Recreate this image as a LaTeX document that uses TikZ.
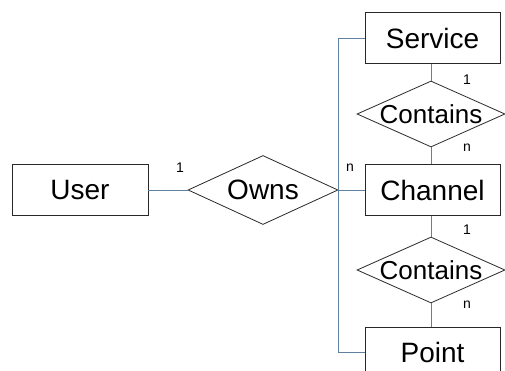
\documentclass[tikz,border=0pt]{standalone}
\usepackage{fontspec}
\setmainfont{Liberation Sans}
\usetikzlibrary{shapes.geometric}
\definecolor{linkblue}{RGB}{95,128,160}
\definecolor{edge}{RGB}{40,40,40}
\tikzset{
  entity/.style={draw=edge, line width=0.8pt, fill=white, minimum width=136pt,
    minimum height=51pt, inner sep=0pt, font=\fontsize{28}{28}\selectfont},
  rel/.style={draw=edge, line width=0.8pt, shape=diamond, inner sep=0pt,
    minimum width=150pt, minimum height=67pt},
  reltext/.style={font=\fontsize{#1}{#1}\selectfont},
  link/.style={draw=linkblue, line width=0.9pt},
  card/.style={font=\fontsize{14}{14}\selectfont, inner sep=0pt}
}
\begin{document}
\begin{tikzpicture}[x=1pt, y=-1pt]
  \useasboundingbox (0,0) rectangle (505,371);
  \clip (0,0) rectangle (505,371);
  % entities
  \node[entity] (user) at (80,190) {User};
  \node[entity, minimum width=135pt] (service) at (432.5,38) {Service};
  \node[entity, minimum width=135pt] (channel) at (432.5,190) {Channel};
  \node[entity, minimum width=135pt] (point) at (432.5,352.5) {Point};
  % relationships
  \node[rel, minimum width=150pt, minimum height=69pt,
        label={[reltext=28]center:Owns}] (owns) at (263,190) {};
  \node[rel, minimum width=148pt, minimum height=66pt,
        label={[reltext=26]center:Contains}] (cont1) at (431,114) {};
  \node[rel, minimum width=148pt, minimum height=66pt,
        label={[reltext=26]center:Contains}] (cont2) at (431,270) {};
  % connectors
  \draw[link] (user.east) -- (owns.west);
  \draw[link] (owns.east) -- (channel.west);
  \draw[link] (owns.east) |- (service.west);
  \draw[link] (owns.east) |- (point.west);
  \draw[link] (service.south -| cont1.north) -- (cont1.north);
  \draw[link] (cont1.south) -- (channel.north -| cont1.south);
  \draw[link] (channel.south -| cont2.north) -- (cont2.north);
  \draw[link] (cont2.south) -- (point.north -| cont2.south);
  % cardinalities
  \node[card] (c1) at (180,168) {1};
  \node[card] (c2) at (350,168) {n};
  \node[card] (c3) at (467,80) {1};
  \node[card] (c4) at (467,148) {n};
  \node[card] (c5) at (467,230) {1};
  \node[card] (c6) at (467,305) {n};
\end{tikzpicture}
\end{document}
